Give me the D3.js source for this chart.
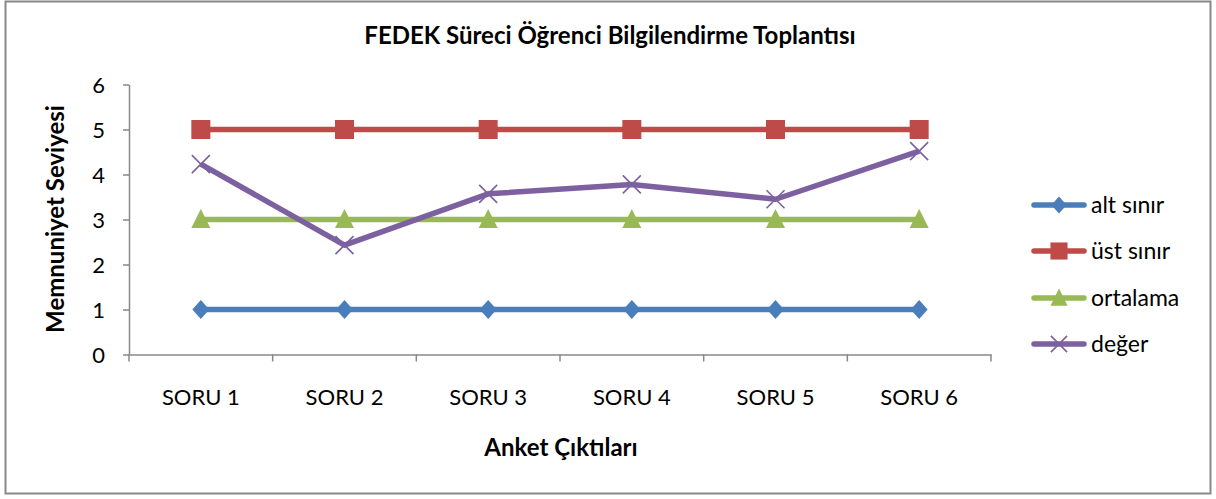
<!DOCTYPE html>
<html><head><meta charset="utf-8">
<script src="https://cdn.jsdelivr.net/npm/d3@7"></script>
<style>body{margin:0;background:#fff;}svg{display:block;font-family:Lato,"Open Sans",sans-serif;}</style>
</head><body>
<svg id="c" width="1216" height="499"></svg>
<script>
const categories = ["SORU 1","SORU 2","SORU 3","SORU 4","SORU 5","SORU 6"];
const seriesNames = ["alt sınır","üst sınır","ortalama","değer"];
const altSinir = [1,1,1,1,1,1];
const ustSinir = [5,5,5,5,5,5];
const ortalama = [3,3,3,3,3,3];
const deger = [4.23,2.43,3.57,3.78,3.45,4.52];
const yTicks = [0,1,2,3,4,5,6];
(function(){
const colors = ["#4A7EBB","#BE4B48","#98B954","#7D60A0"];
const markers = ["diamond","square","triangle","x"];
const allSeries = [altSinir, ustSinir, ortalama, deger];

const svg = d3.select("#c");
svg.append("rect").attr("x",5.5).attr("y",1.5).attr("width",1205).attr("height",492)
  .attr("fill","#fff").attr("stroke","#888").attr("stroke-width",2);

const pl=129, pr=991, pt=84.5, pb=354.5;
const x = d3.scaleBand().domain(categories).range([pl,pr]);
const y = d3.scaleLinear().domain([0,6]).range([pb,pt]);

const yAxis = svg.append("g").attr("transform",`translate(${pl},0)`)
  .call(d3.axisLeft(y).tickValues(yTicks).tickFormat(d3.format("d")).tickSize(6).tickPadding(18).tickSizeOuter(0));
const xAxis = svg.append("g").attr("transform",`translate(0,${pb})`)
  .call(d3.axisBottom(x).tickSize(0).tickPadding(50).tickSizeOuter(0));
const bounds = categories.map(c=>x(c)).concat([pr]);
svg.append("g").selectAll("line").data(bounds).join("line")
  .attr("x1",d=>d).attr("x2",d=>d).attr("y1",pb).attr("y2",pb+7)
  .attr("stroke","#888").attr("stroke-width",1.5);
[yAxis,xAxis].forEach(g=>{
  g.selectAll("path,line").attr("stroke","#888").attr("stroke-width",1.5);
  g.selectAll("text").attr("fill","#000").style("font-size","22px").style("font-family","Lato");
});
yAxis.selectAll("text").attr("dy","0.35em");
xAxis.selectAll("text").attr("dy","0");

const cx = c=>x(c)+x.bandwidth()/2;
const line = d3.line().x((d,i)=>cx(categories[i])).y(d=>y(d));

function marker(g, type, color, px, py, s){
  if(type==="diamond"){
    g.append("path").attr("d",`M${px},${py-s*0.95}L${px+s*0.85},${py}L${px},${py+s*0.95}L${px-s*0.85},${py}Z`).attr("fill",color);
  } else if(type==="square"){
    g.append("rect").attr("x",px-s*0.95).attr("y",py-s*0.95).attr("width",s*1.9).attr("height",s*1.9).attr("fill",color);
  } else if(type==="triangle"){
    g.append("path").attr("d",`M${px},${py-s*1.05}L${px+s*0.95},${py+s*0.85}L${px-s*0.95},${py+s*0.85}Z`).attr("fill",color);
  } else {
    g.append("path").attr("d",`M${px-s*0.9},${py-s*0.9}L${px+s*0.9},${py+s*0.9}M${px+s*0.9},${py-s*0.9}L${px-s*0.9},${py+s*0.9}`)
      .attr("stroke",color).attr("stroke-width",1.6).attr("fill","none");
  }
}

allSeries.forEach((data,k)=>{
  const g = svg.append("g");
  g.append("path").datum(data).attr("d",line).attr("fill","none")
    .attr("stroke",colors[k]).attr("stroke-width",5.5).attr("stroke-linejoin","round");
  data.forEach((v,i)=>marker(g,markers[k],colors[k],cx(categories[i]),y(v),10));
});

const legY = [205,251,298,344];
seriesNames.forEach((n,k)=>{
  const g = svg.append("g");
  g.append("line").attr("x1",1034).attr("x2",1084).attr("y1",legY[k]).attr("y2",legY[k])
    .attr("stroke",colors[k]).attr("stroke-width",5.5).attr("stroke-linecap","round");
  marker(g,markers[k],colors[k],1059,legY[k],9);
  g.append("text").attr("x",1091).attr("y",legY[k]).attr("dy","0.35em")
    .style("font-size","23px").text(n);
});

svg.append("text").attr("x",610).attr("y",44).attr("text-anchor","middle")
  .style("font-size","24px").style("font-weight","bold").text("FEDEK Süreci Öğrenci Bilgilendirme Toplantısı");
svg.append("text").attr("x",561).attr("y",456).attr("text-anchor","middle")
  .style("font-size","24px").style("font-weight","bold").text("Anket Çıktıları");
svg.append("text").attr("transform","translate(64,219) rotate(-90)").attr("text-anchor","middle")
  .style("font-size","24px").style("font-weight","bold").text("Memnuniyet Seviyesi");
})();
</script>
</body></html>
